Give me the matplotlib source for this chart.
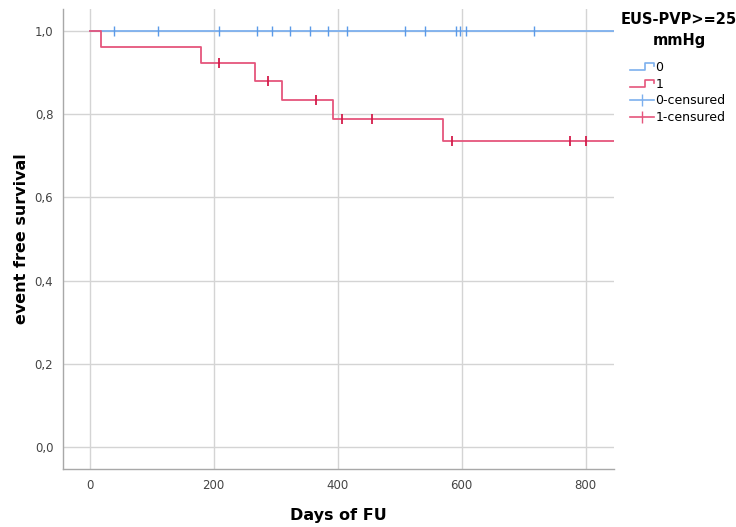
import matplotlib
matplotlib.use('Agg')
import matplotlib.pyplot as plt
from matplotlib.legend_handler import HandlerBase
from matplotlib.lines import Line2D

# Kaplan-Meier steps
t_grp0 = [0, 850]
s_grp0 = [1.0, 1.0]
cens_t0 = [40, 111, 209, 270, 294, 323, 355, 384, 415, 508, 541, 591, 598, 607, 717]
cens_s0 = [1.0] * len(cens_t0)

t_grp1 = [0, 18, 180, 266, 310, 392, 570, 850]
s_grp1 = [1.0, 0.962, 0.922, 0.880, 0.834, 0.788, 0.736, 0.736]
cens_t1 = [209, 288, 365, 407, 455, 584, 775, 800]
cens_s1 = [0.922, 0.880, 0.834, 0.788, 0.788, 0.736, 0.736, 0.736]

x_ticks = [0, 200, 400, 600, 800]
y_ticks = [0.0, 0.2, 0.4, 0.6, 0.8, 1.0]
y_ticklabels = ['0,0', '0,2', '0,4', '0,6', '0,8', '1,0']

blue_line = '#7db0ee'
blue_mark = '#5b9ae8'
red_line = '#e5557c'
red_mark = '#d41c4b'
grid_col = '#d4d4d4'


class StepHandler(HandlerBase):
    def create_artists(self, legend, orig_handle, xdescent, ydescent,
                       width, height, fontsize, trans):
        x0 = -xdescent
        y0 = -ydescent + height * 0.1
        y1 = -ydescent + height * 0.9
        xs = [x0, x0 + width * 0.65, x0 + width * 0.65, x0 + width, x0 + width]
        ys = [y0, y0, y1, y1, y1 - height * 0.35]
        ln = Line2D(xs, ys, color=orig_handle.get_color(), lw=1.2, transform=trans)
        return [ln]


fig = plt.figure(figsize=(7.36, 5.27), dpi=100)
ax = fig.add_axes([0.0856, 0.110, 0.748, 0.873])

ax.step(t_grp0, s_grp0, where='post', color=blue_line, lw=1.3, zorder=3)
ax.step(t_grp1, s_grp1, where='post', color=red_line, lw=1.3, zorder=4)
ax.plot(cens_t0, cens_s0, ls='none', marker='|', ms=7, mew=1.0, color=blue_mark, zorder=5)
ax.plot(cens_t1, cens_s1, ls='none', marker='|', ms=7, mew=1.3, color=red_mark, zorder=5)

ax.set_xlim(-43, 845)
ax.set_ylim(-0.053, 1.053)
ax.set_xticks(x_ticks)
ax.set_yticks(y_ticks)
ax.set_yticklabels(y_ticklabels)
ax.grid(True, color=grid_col, lw=1.0, zorder=0)
ax.set_axisbelow(True)

for s in ['top', 'right']:
    ax.spines[s].set_visible(False)
for s in ['left', 'bottom']:
    ax.spines[s].set_color('#a8a8a8')
    ax.spines[s].set_linewidth(1.0)
ax.tick_params(axis='both', colors='#a8a8a8', labelcolor='#444444', labelsize=8.5, length=0, pad=7)
ax.tick_params(axis='x', pad=7)

ax.set_xlabel('Days of FU', fontsize=11.5, fontweight='bold', labelpad=12)
ax.set_ylabel('event free survival', fontsize=11.5, fontweight='bold', labelpad=4)

fig.text(679 / 736, 1 - 20 / 527, 'EUS-PVP>=25', ha='center', va='center',
         fontsize=10.5, fontweight='bold')
fig.text(679 / 736, 1 - 40 / 527, 'mmHg', ha='center', va='center',
         fontsize=10.5, fontweight='bold')

h0 = Line2D([], [], color=blue_line)
h1 = Line2D([], [], color=red_line)
h0c = Line2D([], [], color=blue_line, marker='|', ms=9, mew=1.0, lw=1.2)
h1c = Line2D([], [], color=red_line, marker='|', ms=9, mew=1.0, lw=1.2)
leg = fig.legend([h0, h1, h0c, h1c], ['0', '1', '0-censured', '1-censured'],
                 handler_map={h0: StepHandler(), h1: StepHandler()},
                 loc='upper left', bbox_to_anchor=(630 / 736, 1 - 61 / 527),
                 frameon=False, fontsize=9,
                 handlelength=1.9, handletextpad=0.15, labelspacing=0.3,
                 borderpad=0.0, borderaxespad=0)

fig.savefig('out.png', dpi=100)
